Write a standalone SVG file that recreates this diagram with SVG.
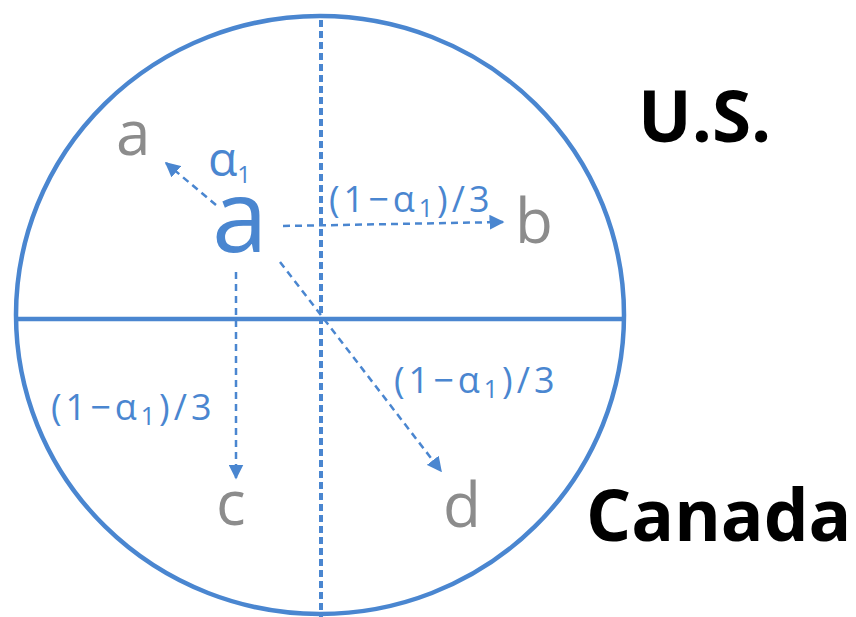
<svg xmlns="http://www.w3.org/2000/svg" width="856" height="617" viewBox="0 0 856 617">
<style>
.blue{fill:#4a86d0;font-family:"Open Sans","DejaVu Sans",sans-serif}
.gray{fill:#8c8c8c;font-family:"Open Sans","DejaVu Sans",sans-serif;font-size:62px}
.bold{fill:#000;font-family:"Open Sans","Liberation Sans",sans-serif;font-weight:bold;font-size:71px}
.arr{stroke:#4a86d0;stroke-width:2.5;stroke-dasharray:7 5;fill:none;marker-end:url(#ah)}
.lbl{font-size:36px;letter-spacing:4px}
.sub{font-size:25px}
</style>
<defs>
<marker id="ah" viewBox="0 0 10 10" refX="9" refY="5" markerWidth="6" markerHeight="6" orient="auto" markerUnits="strokeWidth">
<path d="M0,0 L10,5 L0,10 z" fill="#4a86d0"/>
</marker>
</defs>
<g id="frame">
<ellipse cx="320" cy="315" rx="304" ry="299" fill="none" stroke="#4a86d0" stroke-width="4.5"/>
<line x1="16" y1="319" x2="624" y2="319" stroke="#4a86d0" stroke-width="4.5"/>
<line x1="321" y1="20" x2="321" y2="617" stroke="#4a86d0" stroke-width="4" stroke-dasharray="7 4"/>
</g>
<g id="connectors">
<line class="arr" x1="216" y1="205" x2="166" y2="163"/>
<line class="arr" x1="283" y1="226" x2="503" y2="222"/>
<line class="arr" x1="236" y1="272" x2="236" y2="478"/>
<line class="arr" x1="280" y1="262" x2="441" y2="471"/>
</g>
<g id="source"><text class="blue" x="212" y="252" font-size="100">a</text></g>
<g id="node-a"><text class="gray" x="116" y="155">a</text></g>
<g id="node-b"><text class="gray" x="515" y="243">b</text></g>
<g id="node-c"><text class="gray" x="216" y="525">c</text></g>
<g id="node-d"><text class="gray" x="443" y="527">d</text></g>
<g id="labels">
<text class="blue" x="208" y="176" font-size="48">α<tspan font-size="24" dy="7">1</tspan></text>
<text class="blue lbl" x="329" y="212">(1−α<tspan class="sub" dy="5">1</tspan><tspan dy="-5">)/3</tspan></text>
<text class="blue lbl" x="51" y="420">(1−α<tspan class="sub" dy="5">1</tspan><tspan dy="-5">)/3</tspan></text>
<text class="blue lbl" x="394" y="393">(1−α<tspan class="sub" dy="5">1</tspan><tspan dy="-5">)/3</tspan></text>
</g>
<g id="regions">
<text class="bold" x="638" y="142" font-size="67">U.S.</text>
<text class="bold" x="586" y="541">Canada</text>
</g>
</svg>
